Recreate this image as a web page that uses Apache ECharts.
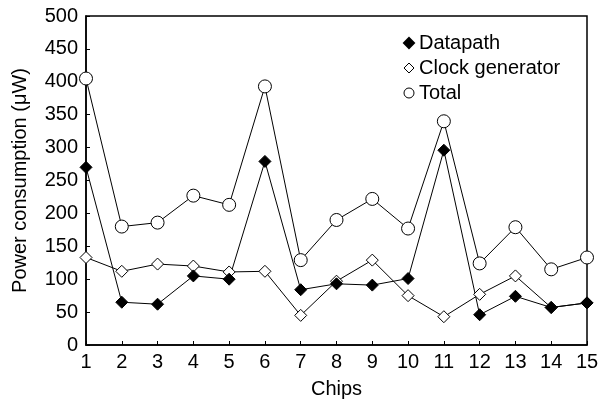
<!DOCTYPE html>
<html>
<head>
<meta charset="utf-8">
<script src="https://cdn.jsdelivr.net/npm/echarts@6/dist/echarts.min.js"></script>
<style>
    html, body { margin: 0; padding: 0; background: #fff; }
    #chart { width: 603px; height: 404px; }
</style>
</head>
<body>
<div id="chart"></div>
<script>
// chips on the x axis
var chips = ['1', '2', '3', '4', '5', '6', '7', '8', '9', '10', '11', '12', '13', '14', '15'];
var datapath = [270, 65, 62, 105, 100, 279, 84, 93, 91, 101, 296, 46, 74, 57, 64];
var clockGen = [133, 112, 123, 120, 111, 112, 45, 97, 129, 75, 43, 77, 105, 57, 64];
var total = [405, 180, 186, 227, 213, 393, 129, 190, 222, 177, 340, 124, 179, 115, 133];

var font = 'Liberation Sans, Arial, sans-serif',
    chart = echarts.init(document.getElementById('chart'));

function line(name, data, symbol, fill, size) {
    return {
        name: name,
        type: 'line',
        data: data,
        symbol: symbol,
        symbolSize: size,
        lineStyle: { color: '#000', width: 1 },
        itemStyle: { color: fill, borderColor: '#000', borderWidth: 1 },
        z: 3
    };
}

chart.setOption({
    animation: false,
    textStyle: { fontFamily: font },
    grid: { left: 86, right: 16, top: 16, bottom: 57, show: true, borderColor: '#000', borderWidth: 1.5 },
    legend: {
        orient: 'vertical',
        left: 398,
        top: 28,
        itemWidth: 10,
        itemHeight: 10,
        itemGap: 5,
        textStyle: { fontSize: 20, color: '#000', fontFamily: font },
        data: [
            { name: 'Datapath', icon: 'diamond', itemStyle: { color: '#000', borderColor: '#000' } },
            { name: 'Clock generator', icon: 'diamond', itemStyle: { color: '#fff', borderColor: '#000', borderWidth: 1 } },
            { name: 'Total', icon: 'circle', itemStyle: { color: '#fff', borderColor: '#000', borderWidth: 1 } }
        ]
    },
    xAxis: {
        type: 'category',
        data: chips,
        boundaryGap: false,
        name: 'Chips',
        nameLocation: 'middle',
        nameGap: 34,
        nameTextStyle: { fontSize: 20, color: '#000' },
        axisLine: { lineStyle: { color: '#000', width: 1.5 } },
        axisTick: { inside: true, length: 4, lineStyle: { color: '#000' } },
        axisLabel: { fontSize: 20, color: '#000', margin: 7 },
        splitLine: { show: false }
    },
    yAxis: {
        type: 'value',
        min: 0,
        max: 500,
        interval: 50,
        name: 'Power consumption (\u03bcW)',
        nameLocation: 'middle',
        nameGap: 56,
        nameTextStyle: { fontSize: 20, color: '#000' },
        axisLine: { show: true, lineStyle: { color: '#000', width: 1.5 } },
        axisTick: { show: true, inside: true, length: 4, lineStyle: { color: '#000' } },
        axisLabel: { fontSize: 20, color: '#000', margin: 8 },
        splitLine: { show: false }
    },
    series: [
        line('Total', total, 'circle', '#fff', 13),
        line('Clock generator', clockGen, 'diamond', '#fff', 12),
        line('Datapath', datapath, 'diamond', '#000', 12)
    ]
});
</script>
</body>
</html>
